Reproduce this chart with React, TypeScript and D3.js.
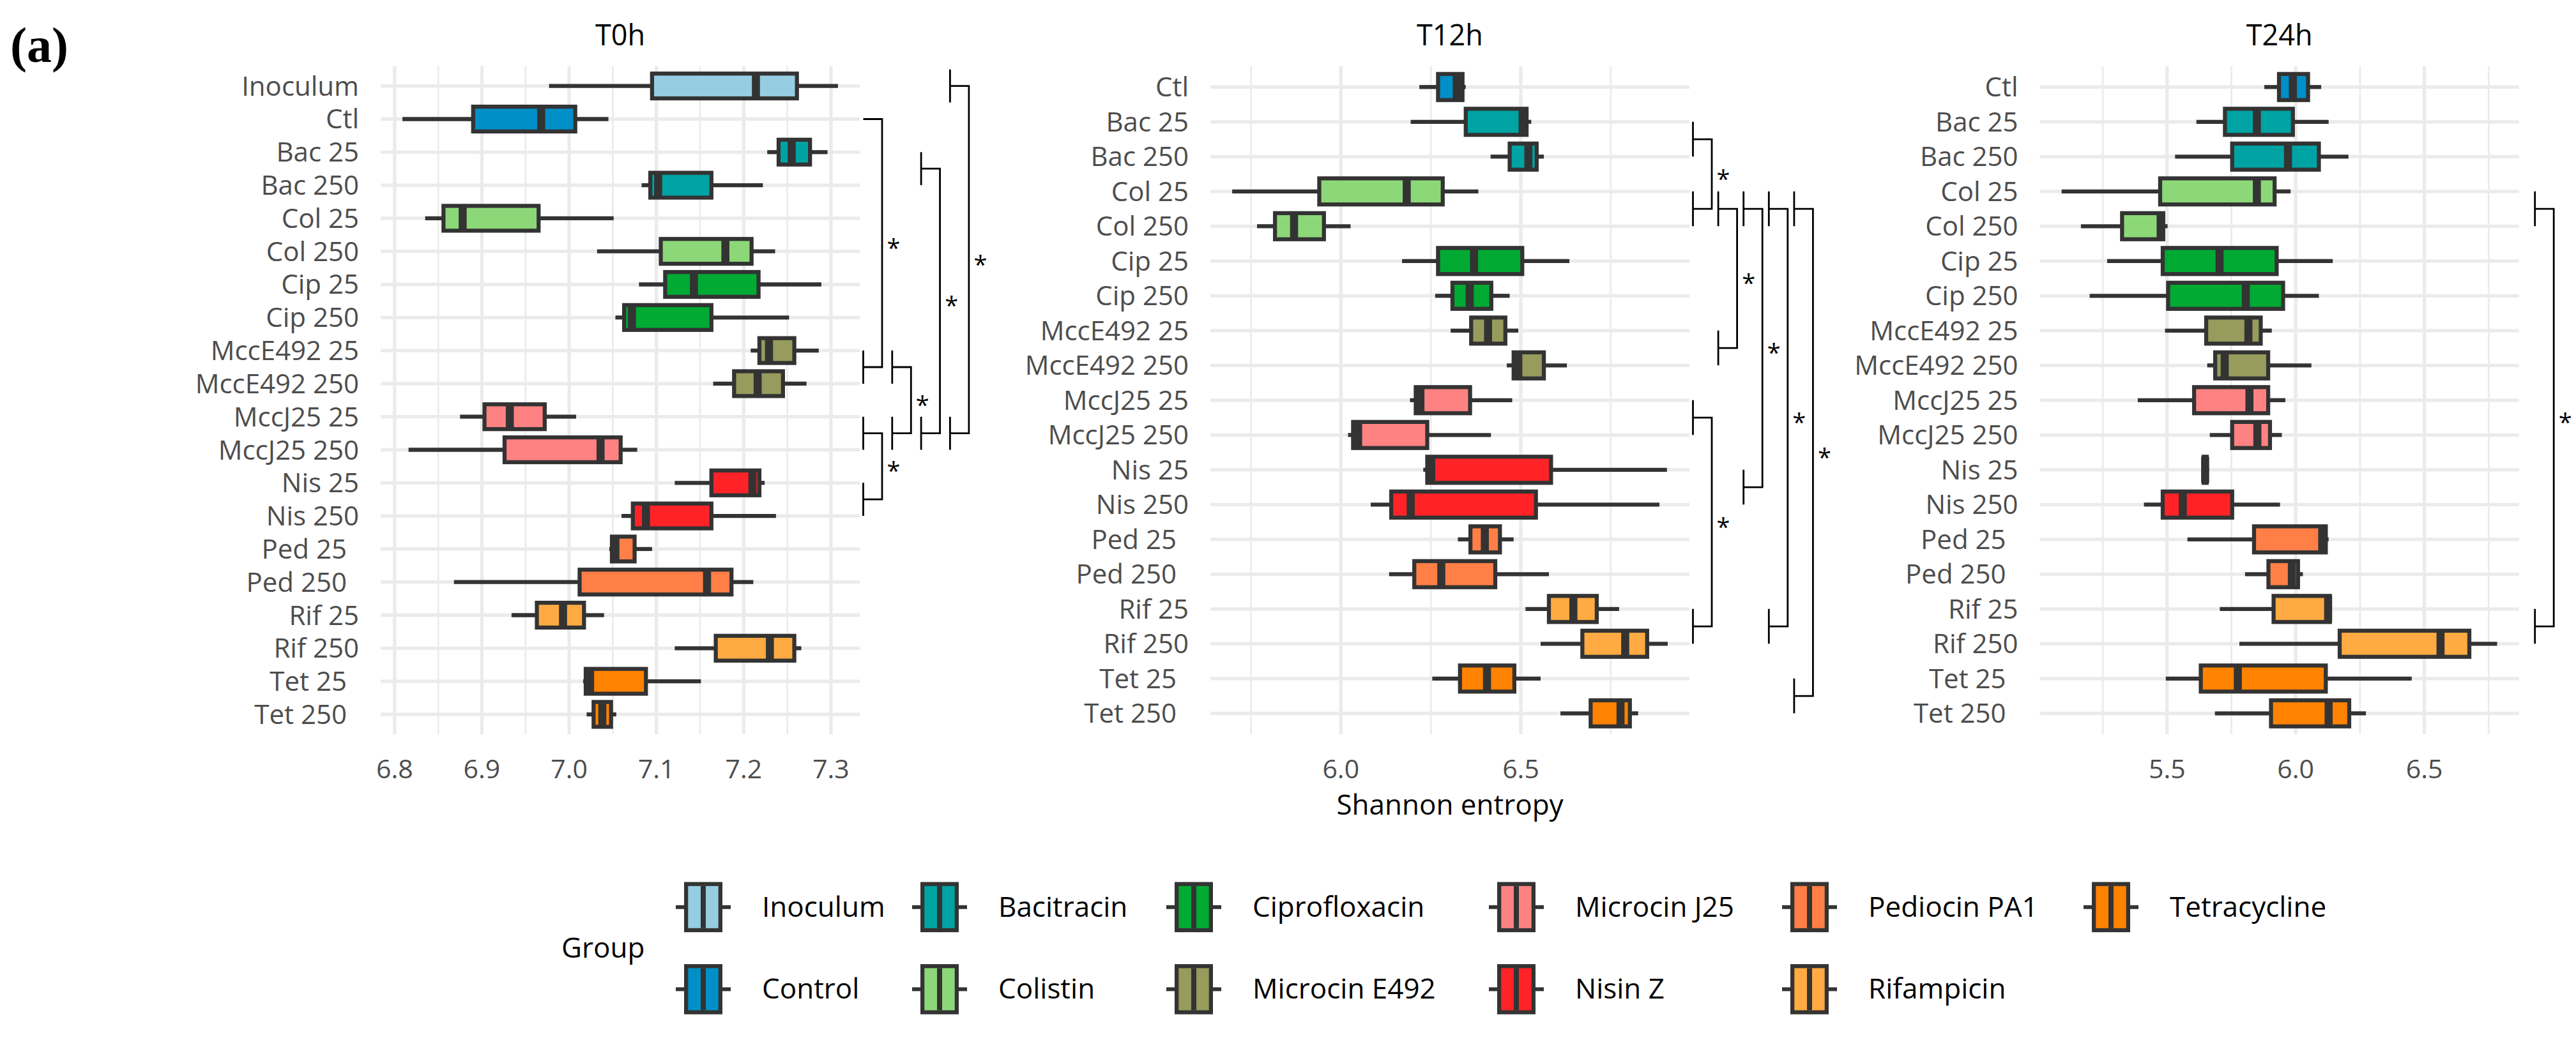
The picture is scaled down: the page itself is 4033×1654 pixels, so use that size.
import React from "react";
import * as d3 from "d3";

// ---------------- DATA ----------------
const GROUPS = [
  "Inoculum", "Control", "Bacitracin", "Colistin", "Ciprofloxacin", "Microcin E492",
  "Microcin J25", "Nisin Z", "Pediocin PA1", "Rifampicin", "Tetracycline",
];
const GROUP_COLORS = [
  "#96CDE1", "#008FC6", "#00A3A3", "#8CD878", "#00AA33", "#979B5C",
  "#FF8282", "#FF2328", "#FF7F47", "#FFAA42", "#FF8200",
];
const ROWS = [
  "Inoculum", "Ctl", "Bac 25", "Bac 250", "Col 25", "Col 250", "Cip 25", "Cip 250",
  "MccE492 25", "MccE492 250", "MccJ25 25", "MccJ25 250", "Nis 25", "Nis 250",
  "Ped 25", "Ped 250", "Rif 25", "Rif 250", "Tet 25", "Tet 250",
];
const ROW_GROUP = [0, 1, 2, 2, 3, 3, 4, 4, 5, 5, 6, 6, 7, 7, 8, 8, 9, 9, 10, 10];
const PANEL_TITLES = ["T0h", "T12h", "T24h"];

// [min, q1, median, q3, max] per row
const T0H_STATS = [
  [6.977, 7.095, 7.214, 7.261, 7.308],
  [6.809, 6.890, 6.968, 7.007, 7.045],
  [7.227, 7.240, 7.255, 7.276, 7.296],
  [7.083, 7.093, 7.102, 7.163, 7.222],
  [6.835, 6.856, 6.878, 6.965, 7.051],
  [7.032, 7.105, 7.179, 7.209, 7.236],
  [7.080, 7.110, 7.143, 7.217, 7.289],
  [7.053, 7.063, 7.072, 7.163, 7.252],
  [7.208, 7.218, 7.229, 7.258, 7.286],
  [7.165, 7.189, 7.216, 7.245, 7.272],
  [6.875, 6.903, 6.932, 6.972, 7.008],
  [6.816, 6.926, 7.036, 7.059, 7.078],
  [7.121, 7.163, 7.210, 7.218, 7.224],
  [7.060, 7.073, 7.088, 7.163, 7.237],
  [7.046, 7.049, 7.053, 7.075, 7.095],
  [6.868, 7.012, 7.158, 7.186, 7.211],
  [6.934, 6.963, 6.993, 7.017, 7.040],
  [7.121, 7.168, 7.230, 7.258, 7.266],
  [7.016, 7.019, 7.024, 7.088, 7.151],
  [7.020, 7.028, 7.038, 7.048, 7.054],
];
const T12H_STATS = [
  [6.218, 6.270, 6.322, 6.338, 6.347],
  [6.194, 6.347, 6.505, 6.516, 6.529],
  [6.416, 6.469, 6.521, 6.544, 6.564],
  [5.698, 5.940, 6.183, 6.283, 6.382],
  [5.767, 5.817, 5.870, 5.953, 6.027],
  [6.170, 6.270, 6.370, 6.504, 6.635],
  [6.262, 6.310, 6.358, 6.418, 6.469],
  [6.305, 6.362, 6.409, 6.457, 6.493],
  [6.461, 6.480, 6.493, 6.564, 6.628],
  [6.192, 6.208, 6.221, 6.359, 6.476],
  [6.020, 6.034, 6.048, 6.240, 6.417],
  [6.229, 6.240, 6.251, 6.584, 6.906],
  [6.083, 6.140, 6.194, 6.542, 6.885],
  [6.325, 6.360, 6.400, 6.442, 6.480],
  [6.134, 6.204, 6.279, 6.429, 6.578],
  [6.513, 6.578, 6.646, 6.711, 6.773],
  [6.555, 6.671, 6.790, 6.851, 6.908],
  [6.254, 6.331, 6.406, 6.482, 6.555],
  [6.610, 6.694, 6.777, 6.803, 6.826],
];
const T24H_STATS = [
  [5.878, 5.935, 5.989, 6.048, 6.099],
  [5.614, 5.725, 5.849, 5.989, 6.128],
  [5.531, 5.753, 5.970, 6.090, 6.205],
  [5.090, 5.473, 5.849, 5.918, 5.980],
  [5.165, 5.325, 5.475, 5.485, 5.502],
  [5.267, 5.483, 5.704, 5.926, 6.144],
  [5.199, 5.504, 5.806, 5.951, 6.090],
  [5.492, 5.652, 5.816, 5.864, 5.907],
  [5.656, 5.687, 5.724, 5.893, 6.061],
  [5.386, 5.605, 5.820, 5.893, 5.960],
  [5.666, 5.753, 5.851, 5.900, 5.946],
  [5.635, 5.642, 5.648, 5.654, 5.663],
  [5.410, 5.483, 5.561, 5.753, 5.939],
  [5.579, 5.838, 6.103, 6.117, 6.128],
  [5.803, 5.894, 5.985, 6.009, 6.028],
  [5.705, 5.914, 6.126, 6.133, 6.135],
  [5.781, 6.171, 6.563, 6.675, 6.783],
  [5.495, 5.631, 5.775, 6.117, 6.451],
  [5.686, 5.904, 6.128, 6.208, 6.273],
];

const T0H_MAJOR = [6.8, 6.9, 7.0, 7.1, 7.2, 7.3];
const T0H_MINOR = [6.85, 6.95, 7.05, 7.15, 7.25];
const T12H_MAJOR = [6.0, 6.5];
const T12H_MINOR = [5.75, 6.25, 6.75];
const T24H_MAJOR = [5.5, 6.0, 6.5];
const T24H_MINOR = [5.25, 5.75, 6.25, 6.75];

// significance brackets: two row groups joined, nesting level
const T0H_BRACKETS = [
  { a: ["Ctl"], b: ["MccE492 25", "MccE492 250"], level: 0, pad: 0 },
  { a: ["MccJ25 25", "MccJ25 250"], b: ["Nis 25", "Nis 250"], level: 0, pad: 0 },
  { a: ["MccE492 25", "MccE492 250"], b: ["MccJ25 25", "MccJ25 250"], level: 1, pad: 0 },
  { a: ["Bac 25", "Bac 250"], b: ["MccJ25 25", "MccJ25 250"], level: 2, pad: 0 },
  { a: ["Inoculum"], b: ["MccJ25 25", "MccJ25 250"], level: 3, pad: 0.5 },
];
const T12H_BRACKETS = [
  { a: ["Bac 25", "Bac 250"], b: ["Col 25", "Col 250"], level: 0, pad: 0 },
  { a: ["MccJ25 25", "MccJ25 250"], b: ["Rif 25", "Rif 250"], level: 0, pad: 0 },
  { a: ["Col 25", "Col 250"], b: ["MccE492 25", "MccE492 250"], level: 1, pad: 0 },
  { a: ["Col 25", "Col 250"], b: ["Nis 25", "Nis 250"], level: 2, pad: 0 },
  { a: ["Col 25", "Col 250"], b: ["Rif 25", "Rif 250"], level: 3, pad: 0 },
  { a: ["Col 25", "Col 250"], b: ["Tet 25", "Tet 250"], level: 4, pad: 0 },
];
const T24H_BRACKETS = [
  { a: ["Col 25", "Col 250"], b: ["Rif 25", "Rif 250"], level: 0.49, pad: 0 },
];
const SIG_LABEL = "*";

const X_TITLE = "Shannon entropy";
const LEGEND_TITLE = "Group";
const PANEL_LABEL = "(a)";
const SHIFTED_LABELS = ["Ped 25", "Ped 250", "Tet 25", "Tet 250"];

// ---------------- LAYOUT ----------------
const W = 4033;
const H = 1654;
const PANEL_LEFTS = [596, 1895, 3193.6];
const PANEL_W = 750;
const PANEL_TOP = 103.6;
const PANEL_BOTTOM = 1150;
const LEVEL_STEP = [45.3, 39.6, 40];
const BOX_STROKE = "#333333";
const SW = 6.3;
const GRID = "#EBEBEB";
const AXIS_TEXT = "#4D4D4D";
const FONT = "'Open Sans', 'Noto Sans', sans-serif";
const LEGEND_COL_X = [1071, 1441, 1839, 2344, 2803, 3275];
const LEGEND_ROW_Y = [1420.8, 1549.4];

type Bracket = { a: string[]; b: string[]; level: number; pad: number };

function Panel(props: {
  idx: number;
  rows: string[];
  stats: number[][];
  major: number[];
  minor: number[];
  brackets: Bracket[];
}) {
  const { idx, rows, stats, major, minor, brackets } = props;
  const left = PANEL_LEFTS[idx];
  const right = left + PANEL_W;
  const lo = d3.min(stats, (s) => s[0]) as number;
  const hi = d3.max(stats, (s) => s[4]) as number;
  const ex = (hi - lo) * 0.05;
  const x = d3.scaleLinear().domain([lo - ex, hi + ex]).range([left, right]);
  const y = d3.scalePoint<string>().domain(rows).range([PANEL_TOP, PANEL_BOTTOM]).padding(0.6);
  const step = y.step();
  const bh = step * 0.75;
  const rowY = (name: string) => y(name) as number;

  return (
    <g>
      <text x={(left + right) / 2} y={71} textAnchor="middle" fontSize={45} fill="#000" fontFamily={FONT}>
        {PANEL_TITLES[idx]}
      </text>
      {/* grid */}
      {minor.map((v) => (
        <line key={"mi" + v} x1={x(v)} x2={x(v)} y1={PANEL_TOP} y2={PANEL_BOTTOM} stroke={GRID} strokeWidth={2.7} />
      ))}
      {major.map((v) => (
        <line key={"ma" + v} x1={x(v)} x2={x(v)} y1={PANEL_TOP} y2={PANEL_BOTTOM} stroke={GRID} strokeWidth={5.3} />
      ))}
      {rows.map((r) => (
        <line key={"h" + r} x1={left} x2={right} y1={rowY(r)} y2={rowY(r)} stroke={GRID} strokeWidth={5.3} />
      ))}
      {/* y labels */}
      {rows.map((r) => (
        <text
          key={"yl" + r}
          x={left - 34 - (SHIFTED_LABELS.includes(r) ? 19 : 0)}
          y={rowY(r) + 15}
          textAnchor="end"
          fontSize={42}
          fill={AXIS_TEXT}
          fontFamily={FONT}
        >
          {r}
        </text>
      ))}
      {/* x tick labels */}
      {major.map((v) => (
        <text key={"xt" + v} x={x(v)} y={1219} textAnchor="middle" fontSize={41} fill={AXIS_TEXT} fontFamily={FONT}>
          {d3.format(".1f")(v)}
        </text>
      ))}
      {/* boxes */}
      {rows.map((r, i) => {
        const [mn, q1, md, q3, mx] = stats[i];
        const cy = rowY(r);
        const color = GROUP_COLORS[ROW_GROUP[ROWS.indexOf(r)]];
        return (
          <g key={"b" + r}>
            <line x1={x(mn)} x2={x(q1)} y1={cy} y2={cy} stroke={BOX_STROKE} strokeWidth={SW} />
            <line x1={x(q3)} x2={x(mx)} y1={cy} y2={cy} stroke={BOX_STROKE} strokeWidth={SW} />
            <rect
              x={x(q1)}
              y={cy - bh / 2}
              width={Math.max(0, x(q3) - x(q1))}
              height={bh}
              fill={color}
              stroke={BOX_STROKE}
              strokeWidth={SW}
            />
            <line x1={x(md)} x2={x(md)} y1={cy - bh / 2} y2={cy + bh / 2} stroke={BOX_STROKE} strokeWidth={SW * 2} />
          </g>
        );
      })}
      {/* significance brackets */}
      {brackets.map((b, k) => {
        const spine = right + 35 + b.level * LEVEL_STEP[idx];
        const bar = spine - 29.5;
        const a1 = rowY(b.a[0]) - b.pad * step;
        const a2 = rowY(b.a[b.a.length - 1]) + b.pad * step;
        const b1 = rowY(b.b[0]);
        const b2 = rowY(b.b[b.b.length - 1]);
        const ma = (a1 + a2) / 2;
        const mb = (b1 + b2) / 2;
        const p = d3.path();
        p.moveTo(bar, a1);
        p.lineTo(bar, a2);
        p.moveTo(bar, ma);
        p.lineTo(spine, ma);
        p.lineTo(spine, mb);
        p.lineTo(bar, mb);
        p.moveTo(bar, b1);
        p.lineTo(bar, b2);
        return (
          <g key={"br" + k}>
            <path d={p.toString()} fill="none" stroke="#000" strokeWidth={2.8} />
            <text x={spine + 18} y={(ma + mb) / 2 + 21} textAnchor="middle" fontSize={38} fill="#000" fontFamily={FONT}>
              {SIG_LABEL}
            </text>
          </g>
        );
      })}
    </g>
  );
}

function Legend() {
  const items = GROUPS.map((g, i) => ({
    name: g,
    color: GROUP_COLORS[i],
    col: Math.floor(i / 2),
    row: i % 2,
  }));
  const kw = 60;
  const kh = 78.6;
  return (
    <g>
      <text x={879} y={1500} fontSize={44} fill="#000" fontFamily={FONT}>
        {LEGEND_TITLE}
      </text>
      {items.map((it) => {
        const kx = LEGEND_COL_X[it.col];
        const cy = LEGEND_ROW_Y[it.row];
        return (
          <g key={it.name}>
            <line x1={kx - 13} x2={kx + 3} y1={cy} y2={cy} stroke={BOX_STROKE} strokeWidth={6} />
            <line x1={kx + kw - 3} x2={kx + kw + 13} y1={cy} y2={cy} stroke={BOX_STROKE} strokeWidth={6} />
            <rect
              x={kx + SW / 2}
              y={cy - kh / 2 + SW / 2}
              width={kw - SW}
              height={kh - SW}
              fill={it.color}
              stroke={BOX_STROKE}
              strokeWidth={SW}
            />
            <line x1={kx + kw / 2} x2={kx + kw / 2} y1={cy - kh / 2 + SW} y2={cy + kh / 2 - SW} stroke={BOX_STROKE} strokeWidth={8} />
            <text x={kx + 122} y={cy + 15} fontSize={44} fill="#000" fontFamily={FONT}>
              {it.name}
            </text>
          </g>
        );
      })}
    </g>
  );
}

export default function App() {
  const sub = ROWS.slice(1);
  return (
    <svg
      width={W}
      height={H}
      viewBox={`0 0 ${W} ${H}`}
      style={{ position: "absolute", left: 0, top: 0, background: "#fff" }}
    >
      <rect x={0} y={0} width={W} height={H} fill="#fff" />
      <text x={16} y={97} fontSize={78} fontWeight="bold" fontFamily="'Liberation Serif', 'DejaVu Serif', serif" fill="#000">
        {PANEL_LABEL}
      </text>
      <Panel idx={0} rows={ROWS} stats={T0H_STATS} major={T0H_MAJOR} minor={T0H_MINOR} brackets={T0H_BRACKETS} />
      <Panel idx={1} rows={sub} stats={T12H_STATS} major={T12H_MAJOR} minor={T12H_MINOR} brackets={T12H_BRACKETS} />
      <Panel idx={2} rows={sub} stats={T24H_STATS} major={T24H_MAJOR} minor={T24H_MINOR} brackets={T24H_BRACKETS} />
      <text x={(PANEL_LEFTS[1] + PANEL_LEFTS[1] + PANEL_W) / 2} y={1276} textAnchor="middle" fontSize={44} fill="#000" fontFamily={FONT}>
        {X_TITLE}
      </text>
      <Legend />
    </svg>
  );
}
